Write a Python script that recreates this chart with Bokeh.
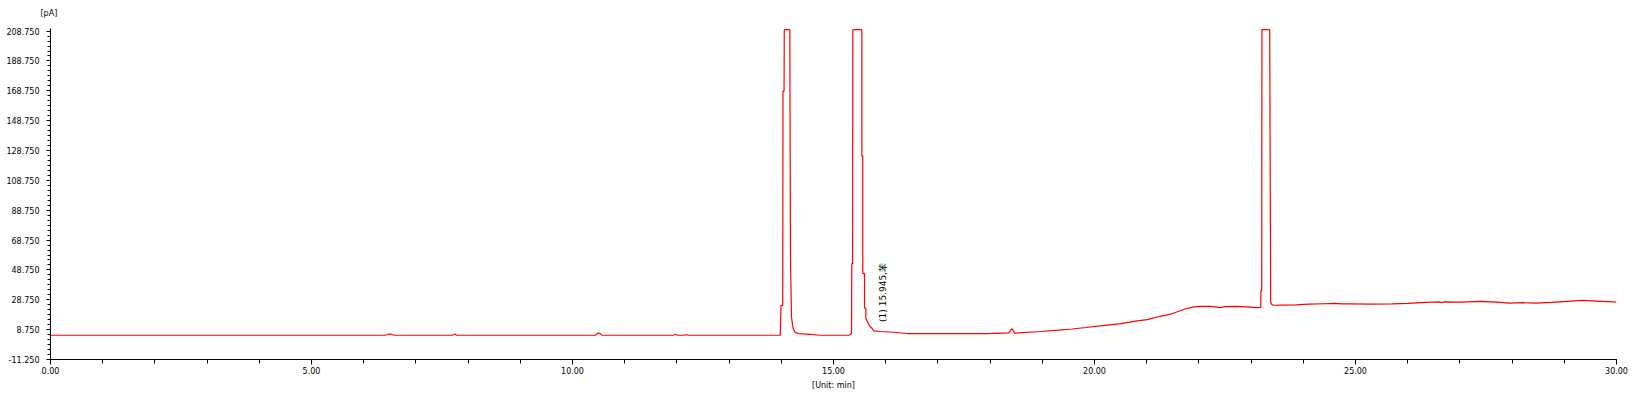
import math
from bokeh.plotting import figure
from bokeh.models import ColumnDataSource, FixedTicker, NumeralTickFormatter, Range1d, Title
from bokeh.core.properties import value
from bokeh.embed import file_html
from bokeh.resources import INLINE

# ---- data ----
time_min = [
    0.00, 6.42, 6.47, 6.53, 6.58, 7.70, 7.74, 7.78, 10.44, 10.49, 10.53, 10.57,
    11.93, 11.97, 12.01, 12.15, 12.18, 12.21, 13.98,
    13.995, 14.028, 14.032, 14.053, 14.057, 14.163, 14.176, 14.195, 14.22, 14.24,
    14.27, 14.335, 14.55, 14.75, 15.30, 15.33, 15.345,
    15.35, 15.366, 15.37, 15.543, 15.543, 15.561, 15.561, 15.594, 15.594, 15.619, 15.619,
    15.695, 15.741, 15.772, 15.90, 16.155, 16.41, 17.94,
    18.36, 18.42, 18.47, 18.55, 18.97, 19.31, 19.57, 19.84, 20.15, 20.50, 20.82,
    21.01, 21.26, 21.46, 21.60, 21.74, 21.90, 22.05, 22.22, 22.41, 22.50, 22.70,
    22.92, 23.10, 23.185,
    23.188, 23.203, 23.207, 23.356, 23.375, 23.39, 23.43,
    23.60, 23.85, 24.10, 24.40, 24.60, 24.75, 24.90, 25.30, 25.70, 26.00, 26.35,
    26.60, 26.65, 26.70, 27.00, 27.40, 27.70, 27.95, 28.20, 28.45, 28.75, 29.05,
    29.35, 29.60, 29.95, 30.00,
]
signal_pa = [
    5.0, 5.0, 5.7, 5.7, 5.0, 5.0, 5.8, 5.0, 5.0, 6.5, 6.1, 5.0,
    5.0, 5.7, 5.0, 5.0, 5.5, 5.0, 5.0,
    25.0, 25.0, 168.5, 168.5, 209.7, 209.7, 55.7, 17.3, 10.6, 8.4,
    6.8, 6.15, 5.6, 5.0, 5.0, 5.6, 6.5,
    53.0, 53.0, 209.7, 209.7, 125.0, 125.0, 46.3, 46.3, 23.1, 23.1, 16.2,
    11.0, 9.5, 7.9, 7.5, 7.0, 6.15, 6.15,
    6.6, 9.5, 6.3, 6.6, 7.5, 8.4, 9.2, 10.2, 11.5, 12.8, 14.6,
    15.5, 17.7, 19.1, 20.9, 22.6, 24.0, 24.3, 24.4, 23.5, 24.2, 24.4,
    24.0, 23.5, 23.6,
    34.7, 34.7, 209.7, 209.7, 27.3, 25.8, 25.1,
    25.2, 25.4, 25.8, 26.1, 26.3, 26.0, 26.0, 25.8, 26.0, 26.4, 27.0,
    27.3, 26.9, 27.3, 27.2, 27.7, 27.2, 26.5, 26.8, 26.5, 27.0, 27.7,
    28.3, 27.9, 27.3, 27.1,
]

x_major_ticks = [0, 5, 10, 15, 20, 25, 30]
x_minor_ticks = list(range(0, 31))
y_major_ticks = [-11.25, 8.75, 28.75, 48.75, 68.75, 88.75, 108.75,
                 128.75, 148.75, 168.75, 188.75, 208.75]
y_minor_ticks = [-11.25 + k * 20.0 / 6.0 for k in range(67)]

y_unit = "[pA]"
x_unit = "[Unit: min]"
peak_label_x = [15.945]
peak_label_y = [13.9]
peak_label_text = ["(1) 15.945,苯"]

FONT = "DejaVu Sans"

title = Title(text=y_unit, align="left", offset=-10, standoff=17,
              vertical_align="top",
              text_font=FONT, text_font_size="8px", text_font_style="normal",
              text_color="#000000")

p = figure(
    frame_width=1566, frame_height=331,
    x_range=Range1d(0, 30), y_range=Range1d(-11.25, 210.5),
    output_backend="svg", toolbar_location=None, title=title,
    min_border_left=50, min_border_right=12, min_border_top=28, min_border_bottom=30,
)
p.xgrid.visible = False
p.ygrid.visible = False
p.outline_line_color = None
p.background_fill_color = "white"
p.border_fill_color = "white"

src = ColumnDataSource(dict(t=time_min, v=signal_pa))
p.line("t", "v", source=src, line_color="#FF0000", line_width=1.2)

lbl_src = ColumnDataSource(dict(x=peak_label_x, y=peak_label_y, text=peak_label_text))
p.text("x", "y", text="text", source=lbl_src, angle=math.pi / 2,
       text_align="left", text_baseline="middle",
       text_font=value(FONT), text_font_size="9px", text_color="#000000")

# x axis
xa = p.xaxis[0]
xa.ticker = FixedTicker(ticks=x_major_ticks, minor_ticks=x_minor_ticks)
xa.formatter = NumeralTickFormatter(format="0.00")
xa.axis_label = x_unit
xa.axis_label_text_font = FONT
xa.axis_label_text_font_size = "8px"
xa.axis_label_text_font_style = "normal"
xa.axis_label_text_color = "#000000"
xa.axis_label_standoff = 4
xa.major_label_text_font = FONT
xa.major_label_text_font_size = "8px"
xa.major_label_text_color = "#000000"
xa.major_label_standoff = 2
xa.major_tick_in = 0
xa.major_tick_out = 5
xa.minor_tick_in = 0
xa.minor_tick_out = 4
xa.axis_line_color = "#000000"
xa.major_tick_line_color = "#000000"
xa.minor_tick_line_color = "#000000"

# y axis
ya = p.yaxis[0]
ya.ticker = FixedTicker(ticks=y_major_ticks, minor_ticks=y_minor_ticks)
ya.formatter = NumeralTickFormatter(format="0.000")
ya.major_label_text_font = FONT
ya.major_label_text_font_size = "8px"
ya.major_label_text_color = "#000000"
ya.major_label_standoff = 7
ya.major_tick_in = 0
ya.major_tick_out = 4
ya.minor_tick_in = 0
ya.minor_tick_out = 3
ya.axis_line_color = "#000000"
ya.major_tick_line_color = "#000000"
ya.minor_tick_line_color = "#000000"

open("out.html", "w").write(file_html(p, INLINE))
